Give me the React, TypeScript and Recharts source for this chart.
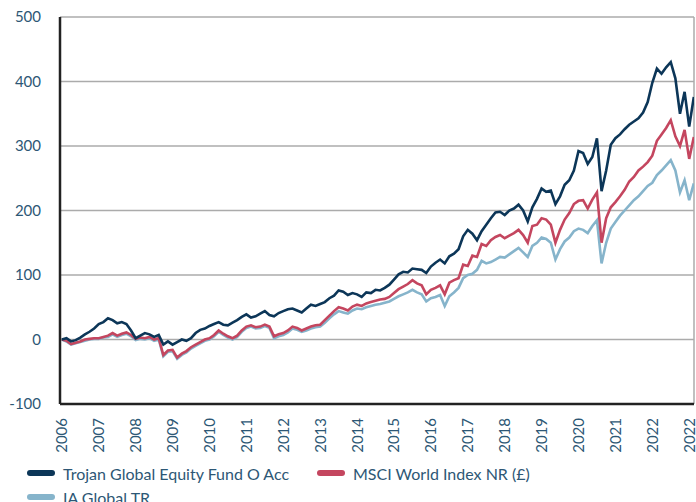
import React from 'react';
import { LineChart, Line, XAxis, YAxis, CartesianGrid, ReferenceLine, Legend } from 'recharts';

const yearLabels = ['2006', '2007', '2008', '2009', '2010', '2011', '2012', '2013', '2014', '2015', '2016', '2017', '2018', '2019', '2020', '2021', '2022', '2022'];
const xTicks = [0, 1, 2, 3, 4, 5, 6, 7, 8, 9, 10, 11, 12, 13, 14, 15, 16, 17];
const yTicks = [-100, 0, 100, 200, 300, 400, 500];

const fund = [
  0, 2, -3, -1, 3, 8, 12, 17,
  24, 27, 33, 30, 25, 27, 24, 14,
  2, 6, 10, 8, 4, 7, -8, -3,
  -8, -4, 0, -2, 2, 10, 15, 17,
  21, 24, 27, 23, 22, 26, 30, 35,
  39, 34, 36, 40, 44, 38, 36, 41,
  44, 47, 48, 45, 42, 48, 54, 52,
  55, 58, 64, 68, 76, 74, 69, 72,
  70, 66, 73, 72, 77, 76, 80, 85,
  93, 101, 105, 104, 110, 109, 108, 103,
  113, 119, 124, 118, 129, 133, 140, 160,
  170, 164, 154, 168, 178, 188, 197, 198,
  193, 200, 203, 209, 200, 183, 205, 218,
  234, 229, 231, 210, 222, 240, 247, 262,
  292, 289, 272, 283, 312, 230, 262, 302,
  312, 318, 326, 333, 338, 343, 352, 368,
  398, 420, 412, 422, 430, 405, 350, 384,
  330, 376,
];

const msci = [
  0, -2, -7, -5, -3, 0, 1, 2,
  2, 4, 6, 10, 6, 9, 11, 7,
  1, 3, 2, 4, 0, 2, -24, -17,
  -16, -28, -22, -18, -12, -8, -4, 0,
  2, 7, 14, 9, 5, 2, 6, 14,
  20, 22, 19, 20, 23, 20, 5, 8,
  10, 14, 20, 18, 14, 17, 20, 22,
  23, 30, 37, 44, 50, 48, 45, 51,
  54, 52, 56, 58, 60, 62, 63, 66,
  72, 78, 82, 86, 92, 87, 84, 70,
  77, 80, 84, 70, 88, 92, 95, 116,
  114, 130, 128, 148, 145, 154, 159, 162,
  157, 161, 165, 170, 162, 150, 176, 178,
  188, 186, 178, 150, 170, 186, 196, 210,
  215, 216, 203, 217, 228, 150, 188, 205,
  213, 222, 232, 245, 252, 262, 268, 275,
  285, 308, 318, 328, 340, 315, 300, 325,
  280, 314,
];

const ia = [
  0, -3, -8, -6, -4, -2, 0, 1,
  1, 3, 4, 8, 4, 7, 9, 5,
  -1, 1, 0, 2, -2, 0, -26, -19,
  -18, -30, -24, -20, -14, -10, -6, -2,
  0, 5, 12, 7, 3, 0, 4, 12,
  18, 20, 17, 18, 21, 18, 2, 5,
  7, 11, 17, 15, 12, 14, 17, 19,
  20, 26, 33, 39, 44, 42, 40, 45,
  48, 47, 50, 52, 54, 55, 57, 59,
  63, 67, 70, 73, 77, 73, 70, 59,
  64, 66, 69, 52, 67, 73, 80, 95,
  100, 102, 108, 122, 118, 120, 124, 128,
  127, 132, 137, 142, 135, 128, 145, 150,
  158, 156, 150, 124, 140, 152, 158, 168,
  172, 170, 165, 176, 185, 118, 150, 172,
  182, 192, 200, 208, 216, 222, 230, 238,
  243, 255, 262, 270, 278, 262, 228, 247,
  216, 242,
];

const data = fund.map((v, i) => ({ t: i / 8, fund: v, msci: msci[i], ia: ia[i] }));

const series = [
  { key: 'fund', name: 'Trojan Global Equity Fund O Acc', color: '#0c3658' },
  { key: 'msci', name: 'MSCI World Index NR (£)', color: '#c4465f' },
  { key: 'ia', name: 'IA Global TR', color: '#86b4cb' },
];

const FONT = 'Lato, "Noto Sans", sans-serif';
const TEXT = '#2d5775';

function XTick(props: any) {
  const { x, y, payload } = props;
  return (
    <g transform={`translate(${x},${y})`}>
      <text transform="rotate(-90)" x={0} y={0} dy={5.5} textAnchor="end" fill={TEXT} fontSize={15} fontFamily={FONT}>
        {yearLabels[payload.value]}
      </text>
    </g>
  );
}

function LegendContent() {
  const Item = ({ s, left, top }: any) => (
    <div style={{ position: 'absolute', left, top, height: 24, display: 'flex', alignItems: 'center' }}>
      <div style={{ width: 28, height: 6, borderRadius: 3, background: s.color, marginRight: 8 }} />
      <span style={{ fontFamily: FONT, fontSize: 16, color: TEXT, whiteSpace: 'nowrap' }}>{s.name}</span>
    </div>
  );
  return (
    <div style={{ position: 'relative', width: 696, height: 41 }}>
      <Item s={series[0]} left={27} top={0} />
      <Item s={series[1]} left={317} top={0} />
      <Item s={series[2]} left={27} top={24} />
    </div>
  );
}

export default function App() {
  return (
    <div style={{ position: 'absolute', left: 0, top: 0, width: 696, height: 502, overflow: 'hidden', background: '#fff' }}>
      <LineChart width={696} height={502} data={data} margin={{ top: 17, right: 2, left: 0, bottom: 0 }}>
        <CartesianGrid horizontal vertical={false} stroke="#ababab" strokeWidth={1.5} />
        <XAxis
          dataKey="t"
          type="number"
          domain={[-0.05, 17.13]}
          ticks={xTicks}
          interval={0}
          height={57}
          tickLine={false}
          tickSize={0}
          tickMargin={14}
          axisLine={{ stroke: '#222', strokeWidth: 2.5 }}
          tick={<XTick />}
          allowDataOverflow
        />
        <YAxis
          type="number"
          domain={[-100, 500]}
          ticks={yTicks}
          width={60}
          tickLine={false}
          tickSize={0}
          tickMargin={19}
          axisLine={{ stroke: '#222', strokeWidth: 2.5 }}
          tick={{ fill: TEXT, fontSize: 15, fontFamily: FONT }}
          allowDataOverflow
        />
        <ReferenceLine x={17.13} stroke="#ababab" strokeWidth={1.5} ifOverflow="extendDomain" />
        <Legend verticalAlign="bottom" align="left" wrapperStyle={{ position: 'absolute', left: 0, top: 461, width: 696, height: 41 }} content={<LegendContent />} />
        <Line type="linear" dataKey="ia" name={series[2].name} stroke={series[2].color} strokeWidth={2.6} dot={false} isAnimationActive={false} />
        <Line type="linear" dataKey="msci" name={series[1].name} stroke={series[1].color} strokeWidth={2.6} dot={false} isAnimationActive={false} />
        <Line type="linear" dataKey="fund" name={series[0].name} stroke={series[0].color} strokeWidth={2.6} dot={false} isAnimationActive={false} />
      </LineChart>
    </div>
  );
}
